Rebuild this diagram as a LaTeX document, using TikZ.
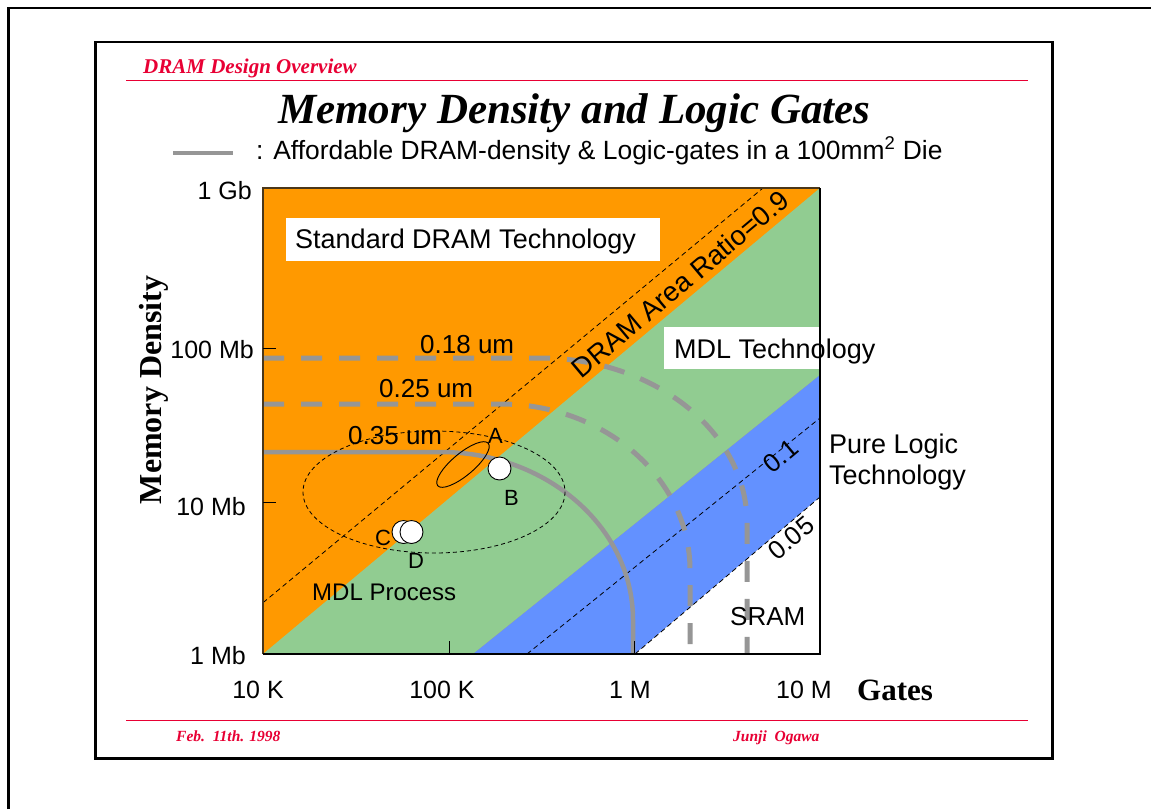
\documentclass[tikz,border=0pt]{standalone}
\usepackage{fontspec}
\setmainfont{Liberation Serif}
\setsansfont{Liberation Sans}
\definecolor{slidered}{RGB}{232,0,52}
\definecolor{dramorange}{RGB}{255,153,0}
\definecolor{mdlgreen}{RGB}{145,204,145}
\definecolor{logicblue}{RGB}{99,145,255}
\definecolor{curvegray}{RGB}{150,150,150}
\definecolor{framebrown}{RGB}{75,55,25}

\tikzset{
  redrule/.style={draw=slidered, line width=1pt},
  sanslbl/.style={font=\sffamily\fontsize{27}{31}\selectfont, inner sep=0pt, anchor=base west},
  ticklbl/.style={font=\sffamily\fontsize{25}{30}\selectfont, inner sep=0pt},
  ptlbl/.style={font=\sffamily\fontsize{22}{26}\selectfont, inner sep=0pt, anchor=base west},
  axistitle/.style={font=\bfseries\fontsize{31}{36}\selectfont, inner sep=0pt},
  footlbl/.style={font=\bfseries\itshape\fontsize{15.5}{18}\selectfont, text=slidered, inner sep=0pt, anchor=base west},
  chip/.style={circle, draw=black, line width=0.9pt, fill=white, minimum size=23pt, inner sep=0pt},
  ratioline/.style={draw=black, line width=0.8pt, dash pattern=on 5pt off 3.5pt},
  afford/.style={draw=curvegray, line width=4.5pt},
  affordnext/.style={draw=curvegray, line width=5pt, dash pattern=on 21pt off 17pt},
  procring/.style={draw=black, line width=0.8pt, dash pattern=on 4pt off 3pt},
  ratiolbl/.style={font=\sffamily\fontsize{26}{31}\selectfont, inner sep=0pt, rotate=40},
}

\begin{document}
\begin{tikzpicture}[x=1pt, y=-1pt]
\useasboundingbox (0,0) rectangle (1151,809);
\fill[white] (0,0) rectangle (1151,809);

% slide frames
\draw[line width=2.5pt] (8.5,809) -- (8.5,8) -- (1151,8);
\draw[line width=2.5pt] (95.5,42) rectangle (1052.5,758.5);

% header and footer rules
\draw[redrule] (126,80.5) -- (1028,80.5);
\draw[redrule] (126,720) -- (1028,720);
\node[font=\bfseries\itshape\fontsize{21}{25}\selectfont, text=slidered, inner sep=0pt, anchor=base west] (header) at (143,73.5) {DRAM Design Overview};
\node[footlbl] (date) at (176,741) {Feb.\ \ 11th. 1998};
\node[footlbl] (author) at (733,741) {Junji\ \ Ogawa};

% title and legend
\node[font=\bfseries\itshape\fontsize{43}{50}\selectfont, inner sep=0pt, anchor=base west] (title) at (278,123) {Memory Density and Logic Gates};
\coordinate (legA) at (173,153);
\coordinate (legB) at (233,153);
\draw[curvegray, line width=4pt] (legA) -- (legB);
\node[sanslbl, font=\sffamily\fontsize{26.4}{31}\selectfont] (legend) at (256,159) {: Affordable DRAM-density \& Logic-gates in a 100mm\textsuperscript{2} Die};

% technology regions
\fill[dramorange] (263,188) rectangle (820,654);
\fill[mdlgreen] (263,654) -- (820,188) -- (820,375) -- (473,654) -- cycle;
\fill[logicblue] (473,654) -- (820,375) -- (820,497) -- (635,654) -- cycle;
\fill[white] (635,654) -- (820,497) -- (820,654) -- cycle;

% DRAM area ratio lines
\draw[ratioline] (263,602.7) -- (763,188);
\draw[ratioline] (527,654) -- (820,418);
\draw[ratioline] (635,654) -- (820,497);

% affordable density / gate curves per process node
\draw[afford] (263,452) -- (440,452) .. controls (546.6,452) and (633,527.2) .. (633,620) -- (633,654);
\draw[affordnext] (263,404) -- (500,404) .. controls (604.9,404) and (690,478.3) .. (690,570) -- (690,654);
\draw[affordnext] (263,358) -- (540,358) .. controls (654.3,358) and (747,431.9) .. (747,523) -- (747,654);

% region labels
\fill[white] (286,218) rectangle (660,261);
\node[sanslbl] (stdlbl) at (295,248) {Standard DRAM Technology};
\fill[white] (664,327) rectangle (820,369);
\node[sanslbl] (mdllbl) at (674,358) {MDL Technology};
\node[sanslbl, anchor=west, align=left] (purelbl) at (829,462) {Pure Logic\\Technology};
\node[sanslbl, font=\sffamily\fontsize{26}{31}\selectfont] (sramlbl) at (730,625) {SRAM};
\node[sanslbl, font=\sffamily\fontsize{24}{29}\selectfont] (proclbl) at (312,600) {MDL Process};
\node[ratiolbl, font=\sffamily\fontsize{27.5}{31}\selectfont] (ratio09) at (680,284) {DRAM Area Ratio=0.9};
\node[ratiolbl] (ratio01) at (781,456) {0.1};
\node[ratiolbl] (ratio005) at (791,538) {0.05};

% process node labels
\node[sanslbl, font=\sffamily\fontsize{26}{31}\selectfont] (n018) at (420,353) {0.18 um};
\node[sanslbl, font=\sffamily\fontsize{26}{31}\selectfont] (n025) at (379,397) {0.25 um};
\node[sanslbl, font=\sffamily\fontsize{26}{31}\selectfont] (n035) at (348,444) {0.35 um};

% MDL process cluster and chips
\draw[procring] (434,492) ellipse [x radius=131, y radius=61];
\draw[line width=0.9pt, rotate around={40:(463,464.5)}] (463,464.5) ellipse [x radius=33, y radius=11];
\node[chip] (chipB) at (499.5,468.5) {};
\node[chip] (chipC) at (403.5,532) {};
\node[chip] (chipD) at (411.5,532) {};
\node[ptlbl] (lblA) at (488,443) {A};
\node[ptlbl] (lblB) at (504,505) {B};
\node[ptlbl] (lblC) at (375,545) {C};
\node[ptlbl] (lblD) at (408,568) {D};

% plot frame and ticks
\draw[line width=2pt, framebrown] (263,654) -- (263,188) -- (820,188);
\draw[line width=1.3pt] (820,188) -- (820,654) -- (263,654);
\draw[line width=1pt] (263,348) -- (276,348);
\draw[line width=1pt] (263,502) -- (276,502);
\draw[line width=1pt] (449,654) -- (449,641);
\draw[line width=1pt] (634,654) -- (634,641);

% axis labels
\node[ticklbl, anchor=base east] (y1g) at (252,199) {1 Gb};
\node[ticklbl, anchor=base east] (y100m) at (254,358) {100 Mb};
\node[ticklbl, anchor=base east] (y10m) at (246,515) {10 Mb};
\node[ticklbl, anchor=base east] (y1m) at (246,664) {1 Mb};
\node[ticklbl, anchor=base] (x10k) at (258,698) {10 K};
\node[ticklbl, anchor=base] (x100k) at (442,698) {100 K};
\node[ticklbl, anchor=base] (x1m) at (630,698) {1 M};
\node[ticklbl, anchor=base] (x10m) at (804,698) {10 M};
\node[axistitle, anchor=base west] (gates) at (857,700) {Gates};
\node[axistitle, font=\bfseries\fontsize{32}{36}\selectfont, anchor=base, rotate=90] (memdens) at (161,390) {Memory Density};
\end{tikzpicture}
\end{document}
